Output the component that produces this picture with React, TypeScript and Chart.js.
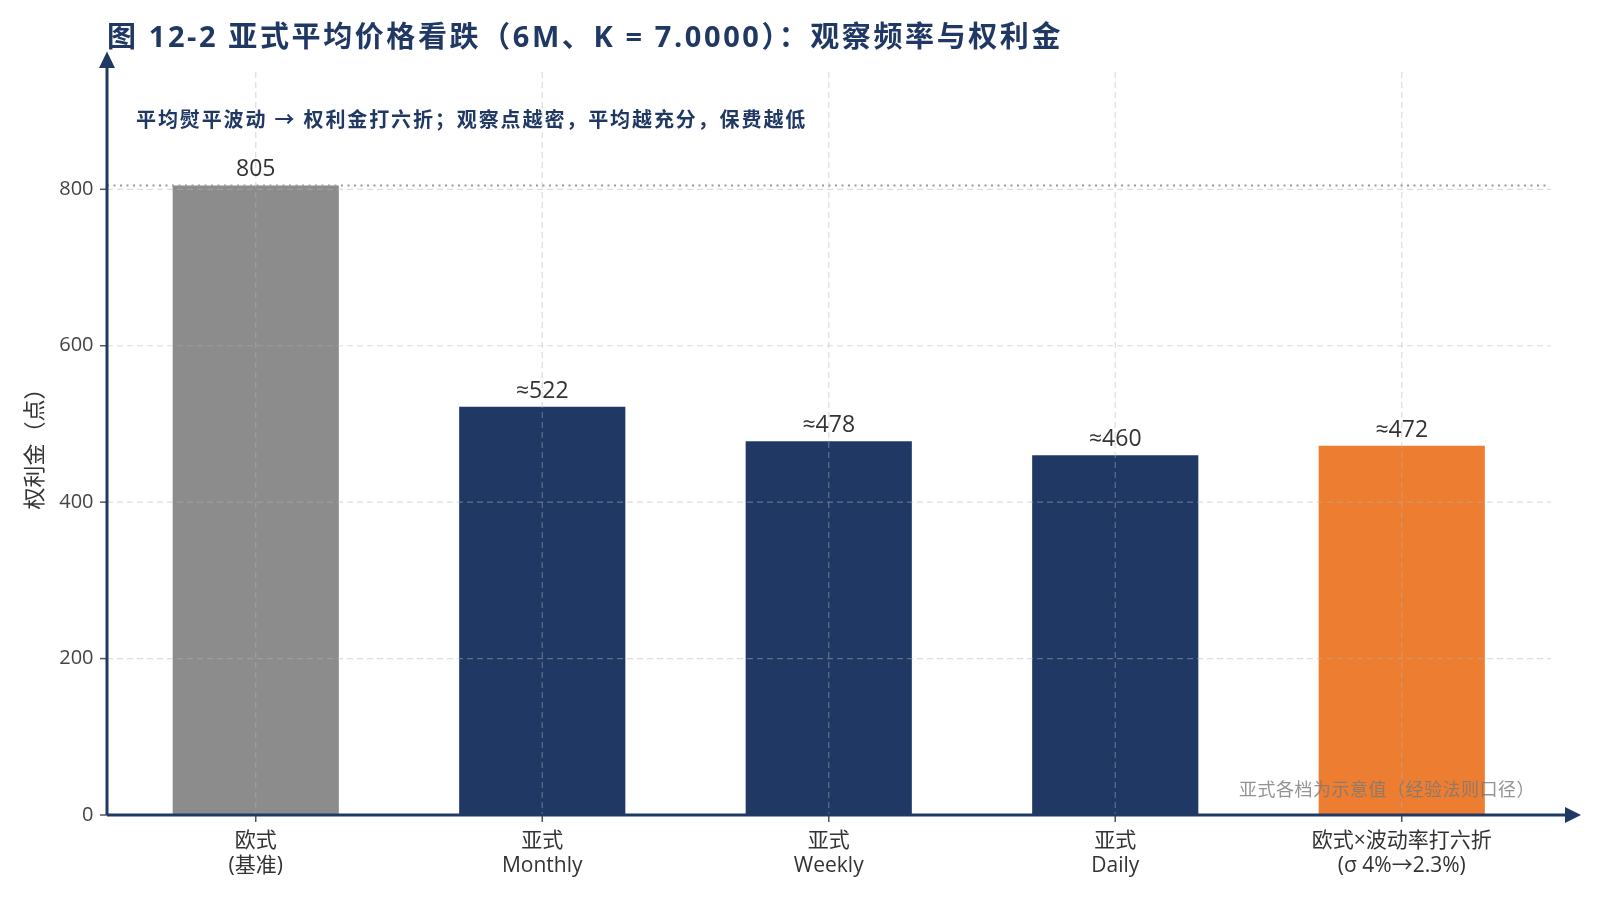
import { useEffect, useRef } from 'react';
import { Chart, registerables } from 'chart.js';

Chart.register(...registerables);

const categories: string[][] = [
  ['欧式', '(基准)'],
  ['亚式', 'Monthly'],
  ['亚式', 'Weekly'],
  ['亚式', 'Daily'],
  ['欧式×波动率打六折', '(σ 4%→2.3%)'],
];
const premiums = [805, 522, 478, 460, 472];
const labelPrefix = ['', '≈', '≈', '≈', '≈'];
const barColors = ['#8c8c8c', '#203864', '#203864', '#203864', '#ed7d31'];
const yTicks = [0, 200, 400, 600, 800];
const yMax = 950;
const baseline = 805;

const NAVY = '#203864';
const FONT = '"Open Sans", "Noto Sans CJK SC", sans-serif';
const TITLE = '图 12-2 亚式平均价格看跌（6M、K = 7.0000）：观察频率与权利金';
const SUBTITLE = '平均熨平波动 → 权利金打六折；观察点越密，平均越充分，保费越低';
const NOTE = '亚式各档为示意值（经验法则口径）';

const overlay = {
  id: 'overlay',
  afterDatasetsDraw(chart: Chart) {
    const { ctx, chartArea, scales } = chart;
    const x = scales.x;
    const y = scales.y;
    const axisX = 107;
    const gridRight = 1551;
    ctx.save();

    // grid on top of bars
    ctx.strokeStyle = 'rgba(180,180,180,0.45)';
    ctx.lineWidth = 1.2;
    ctx.setLineDash([6, 4]);
    yTicks.forEach((v) => {
      if (v === 0) return;
      const py = y.getPixelForValue(v);
      ctx.beginPath();
      ctx.moveTo(axisX, py);
      ctx.lineTo(gridRight, py);
      ctx.stroke();
    });
    premiums.forEach((_, i) => {
      const px = x.getPixelForValue(i);
      ctx.beginPath();
      ctx.moveTo(px, chartArea.top);
      ctx.lineTo(px, chartArea.bottom);
      ctx.stroke();
    });

    // baseline reference (european premium)
    const by = y.getPixelForValue(baseline);
    ctx.strokeStyle = '#9a9a9a';
    ctx.lineWidth = 2;
    ctx.setLineDash([2, 4.5]);
    ctx.beginPath();
    ctx.moveTo(axisX, by);
    ctx.lineTo(1548, by);
    ctx.stroke();
    ctx.setLineDash([]);

    // tick marks
    const zeroY = y.getPixelForValue(0);
    ctx.strokeStyle = '#555';
    ctx.lineWidth = 1.5;
    yTicks.forEach((v) => {
      const py = y.getPixelForValue(v);
      ctx.beginPath();
      ctx.moveTo(axisX - 7, py);
      ctx.lineTo(axisX, py);
      ctx.stroke();
    });
    premiums.forEach((_, i) => {
      const px = x.getPixelForValue(i);
      ctx.beginPath();
      ctx.moveTo(px, zeroY);
      ctx.lineTo(px, zeroY + 7);
      ctx.stroke();
    });

    // axes with arrows
    ctx.strokeStyle = NAVY;
    ctx.fillStyle = NAVY;
    ctx.lineWidth = 3;
    ctx.beginPath();
    ctx.moveTo(axisX, zeroY);
    ctx.lineTo(axisX, 66);
    ctx.moveTo(axisX, zeroY);
    ctx.lineTo(1567, zeroY);
    ctx.stroke();
    ctx.beginPath();
    ctx.moveTo(axisX, 51.5);
    ctx.lineTo(axisX - 8, 68);
    ctx.lineTo(axisX + 8, 68);
    ctx.closePath();
    ctx.fill();
    ctx.beginPath();
    ctx.moveTo(1581, zeroY);
    ctx.lineTo(1565, zeroY - 8);
    ctx.lineTo(1565, zeroY + 8);
    ctx.closePath();
    ctx.fill();

    // value labels
    const meta = chart.getDatasetMeta(0);
    ctx.fillStyle = '#333';
    ctx.font = `23px ${FONT}`;
    ctx.textAlign = 'center';
    ctx.textBaseline = 'middle';
    meta.data.forEach((bar, i) => {
      ctx.fillText(labelPrefix[i] + premiums[i], bar.x, bar.y - 15.5);
    });

    // title, subtitle, note
    const c = ctx as any;
    ctx.textAlign = 'left';
    ctx.fillStyle = NAVY;
    ctx.font = `bold 29px ${FONT}`;
    c.letterSpacing = '2.6px';
    ctx.fillText(TITLE, 107, 39);
    ctx.font = `bold 20px ${FONT}`;
    c.letterSpacing = '1.9px';
    ctx.fillText(SUBTITLE, 136, 121);
    ctx.textAlign = 'right';
    ctx.fillStyle = 'rgba(120,120,120,0.8)';
    ctx.font = `18px ${FONT}`;
    c.letterSpacing = '0.5px';
    ctx.fillText(NOTE, 1535, 791);
    c.letterSpacing = '0px';
    ctx.restore();
  },
};

export default function App() {
  const canvasRef = useRef<HTMLCanvasElement>(null);
  const chartRef = useRef<Chart | null>(null);

  useEffect(() => {
    document.body.style.margin = '0';
    if (!canvasRef.current) return;
    if (chartRef.current) chartRef.current.destroy();

    chartRef.current = new Chart(canvasRef.current, {
      type: 'bar',
      data: {
        labels: categories,
        datasets: [
          {
            data: premiums,
            backgroundColor: barColors,
            barPercentage: 0.58,
            categoryPercentage: 1,
          },
        ],
      },
      options: {
        animation: false,
        responsive: false,
        layout: { padding: { left: 0, right: 55, top: 72, bottom: 0 } },
        plugins: {
          legend: { display: false },
          tooltip: { enabled: false },
        },
        scales: {
          x: {
            afterFit: (s: any) => {
              s.height = 85;
            },
            grid: { display: false, drawTicks: false },
            border: { display: false },
            ticks: {
              color: '#333',
              font: { family: FONT, size: 21, lineHeight: 1.16 },
              padding: 14,
              maxRotation: 0,
              autoSkip: false,
            },
          },
          y: {
            min: 0,
            max: yMax,
            afterFit: (s: any) => {
              s.width = 112.5;
            },
            afterBuildTicks: (s: any) => {
              s.ticks = yTicks.map((v) => ({ value: v }));
            },
            grid: { display: false, drawTicks: false },
            border: { display: false },
            ticks: {
              color: '#444',
              font: { family: FONT, size: 20 },
              padding: 19,
            },
            title: {
              display: true,
              text: '权利金（点）',
              color: '#333',
              font: { family: FONT, size: 22 },
              padding: { top: 23, bottom: 0 },
            },
          },
        },
      },
      plugins: [overlay],
    });

    return () => {
      if (chartRef.current) chartRef.current.destroy();
      chartRef.current = null;
    };
  }, []);

  return (
    <div style={{ width: 1600, height: 900, background: '#fff' }}>
      <canvas ref={canvasRef} width={1600} height={900} />
    </div>
  );
}
